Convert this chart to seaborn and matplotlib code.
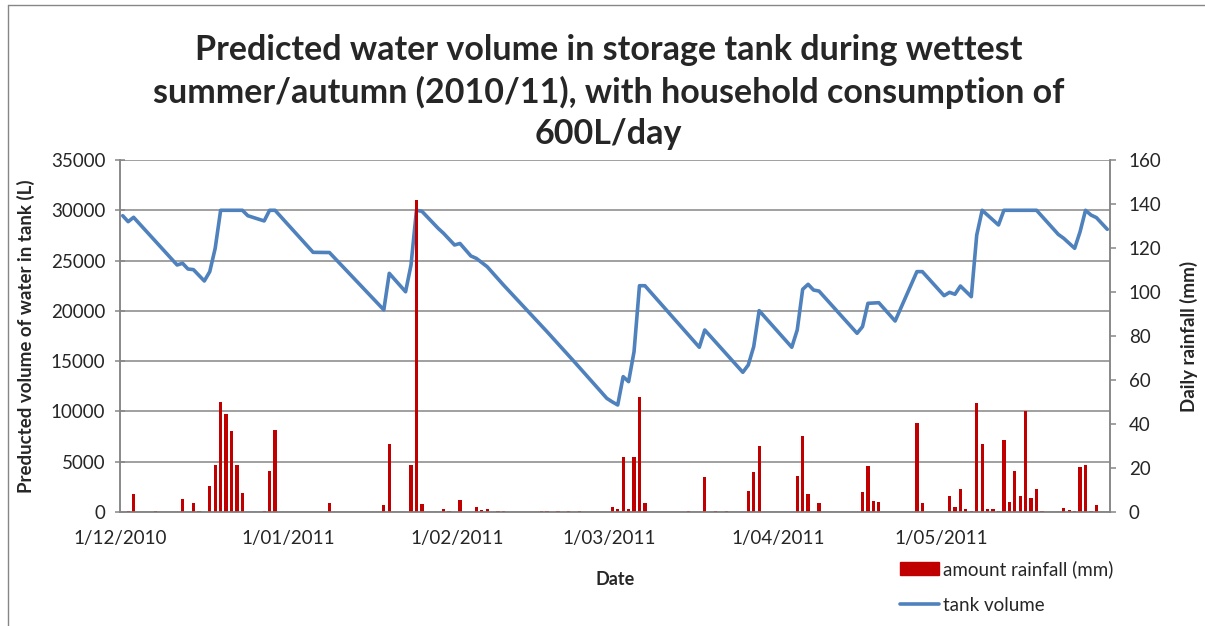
import numpy as np
import pandas as pd
import matplotlib
matplotlib.use("Agg")
import matplotlib.pyplot as plt
import matplotlib.dates as mdates
from matplotlib.lines import Line2D
from matplotlib.patches import Patch
import seaborn as sns

# tank volume (L), read at the vertices of the line
tank_dates = [
    "2010-12-01", "2010-12-02", "2010-12-03", "2010-12-11", "2010-12-12", "2010-12-13",
    "2010-12-14", "2010-12-16", "2010-12-17", "2010-12-18", "2010-12-19", "2010-12-23",
    "2010-12-24", "2010-12-27", "2010-12-28", "2010-12-29", "2011-01-05", "2011-01-08",
    "2011-01-18", "2011-01-19", "2011-01-22", "2011-01-23", "2011-01-24", "2011-01-25",
    "2011-01-28", "2011-01-29", "2011-01-31", "2011-02-01", "2011-02-03", "2011-02-04",
    "2011-02-06", "2011-02-09", "2011-02-17", "2011-02-22", "2011-02-28", "2011-03-01",
    "2011-03-02", "2011-03-03", "2011-03-04", "2011-03-05", "2011-03-06", "2011-03-07",
    "2011-03-17", "2011-03-18", "2011-03-25", "2011-03-26", "2011-03-27", "2011-03-28",
    "2011-04-03", "2011-04-04", "2011-04-05", "2011-04-06", "2011-04-07", "2011-04-08",
    "2011-04-15", "2011-04-16", "2011-04-17", "2011-04-19", "2011-04-22", "2011-04-26",
    "2011-04-27", "2011-05-01", "2011-05-02", "2011-05-03", "2011-05-04", "2011-05-06",
    "2011-05-07", "2011-05-08", "2011-05-11", "2011-05-12", "2011-05-18", "2011-05-22",
    "2011-05-23", "2011-05-25", "2011-05-26", "2011-05-27", "2011-05-28", "2011-05-29",
    "2011-05-31",
]
tank_volume = [
    29460, 28870, 29300, 24560, 24730, 24160,
    24100, 22970, 23900, 26220, 30000, 30000,
    29460, 28940, 30000, 30000, 25820, 25800,
    20100, 23730, 21900, 24560, 30000, 29900,
    28200, 27700, 26550, 26700, 25460, 25220,
    24390, 22570, 17930, 14950, 11300, 10950,
    10640, 13460, 12960, 15940, 22500, 22500,
    16380, 18100, 13890, 14620, 16440, 20020,
    16380, 18100, 22140, 22640, 22070, 21970,
    17770, 18430, 20750, 20810, 18990, 23900,
    23900, 21510, 21840, 21650, 22470, 21410,
    27540, 30000, 28540, 30000, 30000, 27600,
    27210, 26220, 27870, 30000, 29530, 29270,
    28110,
]

# daily rainfall (mm), days with rain only
rain_dates = [
    "2010-12-02", "2010-12-03", "2010-12-07", "2010-12-12", "2010-12-14", "2010-12-15",
    "2010-12-17", "2010-12-18", "2010-12-19", "2010-12-20", "2010-12-21", "2010-12-22",
    "2010-12-23", "2010-12-27", "2010-12-28", "2010-12-29", "2011-01-08", "2011-01-18",
    "2011-01-19", "2011-01-23", "2011-01-24", "2011-01-25", "2011-01-29", "2011-01-30",
    "2011-02-01", "2011-02-04", "2011-02-05", "2011-02-06", "2011-02-08", "2011-02-09",
    "2011-02-16", "2011-02-17", "2011-02-19", "2011-02-21", "2011-02-23", "2011-03-01",
    "2011-03-02", "2011-03-03", "2011-03-04", "2011-03-05", "2011-03-06", "2011-03-07",
    "2011-03-15", "2011-03-18", "2011-03-20", "2011-03-22", "2011-03-26", "2011-03-27",
    "2011-03-28", "2011-04-04", "2011-04-05", "2011-04-06", "2011-04-08", "2011-04-16",
    "2011-04-17", "2011-04-18", "2011-04-19", "2011-04-26", "2011-04-27", "2011-05-02",
    "2011-05-03", "2011-05-04", "2011-05-05", "2011-05-06", "2011-05-07", "2011-05-08",
    "2011-05-09", "2011-05-10", "2011-05-11", "2011-05-12", "2011-05-13", "2011-05-14",
    "2011-05-15", "2011-05-16", "2011-05-17", "2011-05-18", "2011-05-19", "2011-05-23",
    "2011-05-24", "2011-05-25", "2011-05-26", "2011-05-27", "2011-05-28", "2011-05-29",
]
rain_mm = [
    0.3, 8.0, 0.5, 5.9, 4.1, 0.5,
    12.0, 21.2, 50.2, 44.4, 36.7, 21.5,
    8.6, 0.5, 18.6, 37.3, 4.1, 3.0,
    30.9, 21.5, 142.0, 3.6, 1.5, 0.5,
    5.6, 2.3, 1.0, 1.2, 0.3, 0.5,
    0.4, 0.4, 0.3, 0.4, 0.3, 2.4,
    1.5, 24.8, 1.5, 24.8, 52.3, 4.1,
    0.4, 16.1, 0.4, 0.4, 9.7, 18.2,
    30.2, 16.5, 34.4, 8.0, 4.1, 9.2,
    21.1, 5.2, 4.7, 40.5, 4.1, 7.1,
    2.3, 10.5, 1.2, 0.3, 49.5, 31.1,
    1.2, 1.2, 0.4, 32.9, 4.5, 18.6,
    7.4, 45.8, 6.2, 10.5, 0.4, 1.7,
    0.8, 0.3, 20.5, 21.5, 0.5, 3.0,
]

month_ticks = ["2010-12-01", "2011-01-01", "2011-02-01", "2011-03-01",
               "2011-04-01", "2011-05-01", "2011-06-01"]

title = ("Predicted water volume in storage tank during wettest\n"
         "summer/autumn (2010/11), with household consumption of\n"
         "600L/day")

sns.set_style("white")
plt.rcParams["font.family"] = ["Lato", "DejaVu Sans"]

blue = "#4F81BD"
red = "#C00000"
grey = "#868686"

# each day sits in the middle of its slot, like the original date axis
tank = pd.DataFrame({"x": mdates.date2num(pd.to_datetime(tank_dates)) + 0.5,
                     "volume": tank_volume})
rain = pd.DataFrame({"x": mdates.date2num(pd.to_datetime(rain_dates)) + 0.5,
                     "rain": rain_mm})
tick_pos = mdates.date2num(pd.to_datetime(month_ticks))

fig = plt.figure(figsize=(12.05, 6.26), dpi=100)
ax = fig.add_axes([120 / 1205, 1 - 512 / 626, 990 / 1205, 352 / 626])
ax2 = ax.twinx()

sns.lineplot(data=tank, x="x", y="volume", ax=ax, color=blue, linewidth=2.6,
             estimator=None, sort=False)
sns.barplot(data=rain, x="x", y="rain", ax=ax2, native_scale=True, orient="x",
            color=red, width=0.6, errorbar=None, saturation=1, linewidth=0)

ax.set_xlim(tick_pos[0], tick_pos[-1])
ax.set_ylim(0, 35000)
ax2.set_ylim(0, 160)
ax.set_yticks(np.arange(0, 35001, 5000))
ax2.set_yticks(np.arange(0, 161, 20))
ax.set_xticks(tick_pos)
labels = [f"{d.day}/{d.month:02d}/{d.year}" for d in pd.to_datetime(month_ticks)]
labels[-1] = ""
ax.set_xticklabels(labels)

ax.grid(axis="y", color=grey, linewidth=1.1)
ax.set_axisbelow(True)
ax2.grid(False)

for a in (ax, ax2):
    a.spines["top"].set_visible(False)
    for side in ("left", "right", "bottom"):
        a.spines[side].set_color(grey)
        a.spines[side].set_linewidth(1.1)

ax.tick_params(axis="y", direction="inout", length=7, width=1.1, color=grey,
               labelsize=13.5, pad=7)
ax2.tick_params(axis="y", direction="out", length=4.5, width=1.1, color=grey,
                labelsize=13.5, pad=9)
ax.tick_params(axis="x", direction="out", length=4, width=1.1, color=grey,
               labelsize=13.5, pad=9)
ax2.tick_params(axis="x", bottom=False, labelbottom=False)

ax.set_xlabel("Date", fontsize=13, fontweight="bold")
ax.xaxis.set_label_coords(0.5, -0.168)
ax.set_ylabel("Preducted volume of water in tank (L)", fontsize=13.5, fontweight="bold")
ax.yaxis.set_label_coords(-0.086, 0.5)
ax2.set_ylabel("Daily rainfall (mm)", fontsize=13.5, fontweight="bold")
ax2.yaxis.set_label_coords(1.071, 0.5)

fig.text(0.505, 1 - 92 / 626, title, ha="center", va="center", fontsize=24.5,
         fontweight="bold", linespacing=1.36)

handles = [Patch(facecolor=red, edgecolor=red), Line2D([], [], color=blue, linewidth=2.6)]
fig.legend(handles, ["amount rainfall (mm)", "tank volume"], loc="upper left",
           bbox_to_anchor=(900 / 1205, 1 - 560 / 626), frameon=False, fontsize=13.5,
           handlelength=2.1, handleheight=0.7, handletextpad=0.2, labelspacing=1.0,
           borderpad=0, borderaxespad=0)

# outer chart border, cut by the page edge
fig.add_artist(Line2D([8 / 1205, 1], [1 - 5 / 626, 1 - 5 / 626], color=grey, linewidth=1))
fig.add_artist(Line2D([8 / 1205, 8 / 1205], [0, 1 - 5 / 626], color=grey, linewidth=1))

fig.savefig("out.png", dpi=100)
